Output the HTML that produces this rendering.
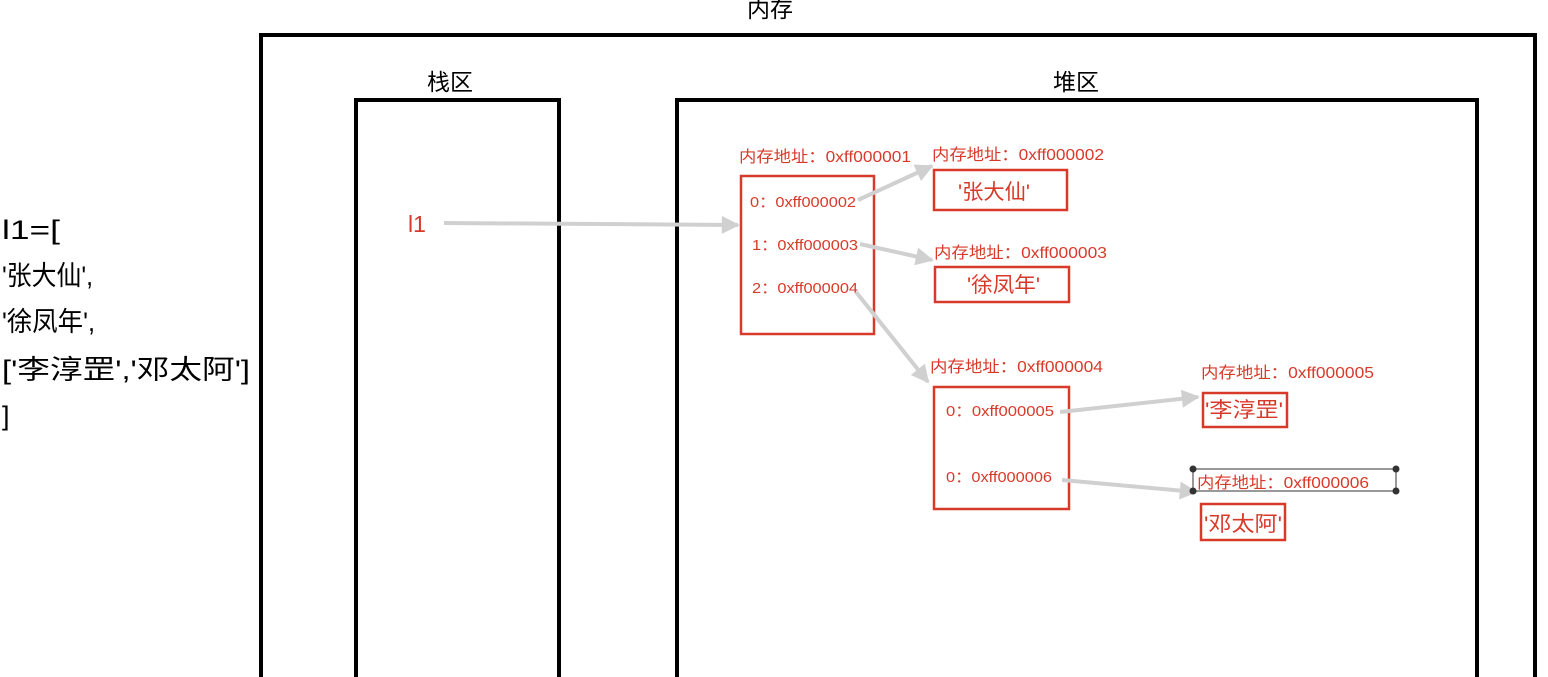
<!DOCTYPE html>
<html><head><meta charset="utf-8"><style>
html,body{margin:0;padding:0;background:#fff;width:1548px;height:677px;overflow:hidden}
svg{display:block}
svg text{font-family:"Liberation Sans","Noto Sans CJK SC",sans-serif}
</style></head><body>
<svg width="1548" height="677" viewBox="0 0 1548 677" xmlns="http://www.w3.org/2000/svg">
<defs><marker id="b" viewBox="0 0 10 10" refX="9" refY="5" markerWidth="22" markerHeight="18" orient="auto" markerUnits="userSpaceOnUse"><path d="M0,0 L10,5 L0,10z" fill="#d0d0d0"/></marker></defs>
<path d="M261,677 V35 H1535 V677" fill="none" stroke="#000" stroke-width="4"/>
<path d="M356,677 V100 H559 V677" fill="none" stroke="#000" stroke-width="4"/>
<path d="M677,677 V100 H1477 V677" fill="none" stroke="#000" stroke-width="4"/>
<text x="770" y="17" font-size="23" text-anchor="middle">内存</text>
<text x="450" y="90" font-size="23" text-anchor="middle">栈区</text>
<text x="1076" y="90" font-size="23" text-anchor="middle">堆区</text>
<g font-size="27" fill="#000" lengthAdjust="spacingAndGlyphs">
<text x="2" y="239" textLength="58" lengthAdjust="spacingAndGlyphs">l1=[</text>
<text x="2" y="285" textLength="91" lengthAdjust="spacingAndGlyphs">'张大仙',</text>
<text x="2" y="331" textLength="93" lengthAdjust="spacingAndGlyphs">'徐凤年',</text>
<text x="2" y="379" textLength="248" lengthAdjust="spacingAndGlyphs">['李淳罡','邓太阿']</text>
<text x="2" y="425">]</text></g>
<g fill="none" stroke="#d83a2a" stroke-width="2.5">
<rect x="741" y="176" width="133" height="158"/>
<rect x="934" y="170" width="133" height="40"/>
<rect x="935" y="267" width="134" height="35"/>
<rect x="934" y="387" width="135" height="122"/>
<rect x="1203" y="393" width="84" height="34"/>
<rect x="1201" y="504" width="84" height="36"/>
</g>
<g fill="#d83a2a">
<text x="408" y="232" font-size="23">l1</text>
<g font-size="16">
<text x="739" y="162" textLength="172" lengthAdjust="spacingAndGlyphs">内存地址：0xff000001</text>
<text x="932" y="160" textLength="172" lengthAdjust="spacingAndGlyphs">内存地址：0xff000002</text>
<text x="934" y="258" textLength="173" lengthAdjust="spacingAndGlyphs">内存地址：0xff000003</text>
<text x="930" y="372" textLength="173" lengthAdjust="spacingAndGlyphs">内存地址：0xff000004</text>
<text x="1201" y="378" textLength="173" lengthAdjust="spacingAndGlyphs">内存地址：0xff000005</text>
<text x="1197" y="488" textLength="172" lengthAdjust="spacingAndGlyphs">内存地址：0xff000006</text>
</g>
<g font-size="15">
<text x="750" y="207" textLength="106" lengthAdjust="spacingAndGlyphs">0：0xff000002</text>
<text x="752" y="250" textLength="106" lengthAdjust="spacingAndGlyphs">1：0xff000003</text>
<text x="752" y="293" textLength="106" lengthAdjust="spacingAndGlyphs">2：0xff000004</text>
<text x="946" y="416" textLength="108" lengthAdjust="spacingAndGlyphs">0：0xff000005</text>
<text x="946" y="482" textLength="106" lengthAdjust="spacingAndGlyphs">0：0xff000006</text>
</g>
<g font-size="21">
<text x="958" y="199" textLength="72" lengthAdjust="spacingAndGlyphs">'张大仙'</text>
<text x="967" y="292" textLength="73" lengthAdjust="spacingAndGlyphs">'徐凤年'</text>
<text x="1205" y="417" textLength="78" lengthAdjust="spacingAndGlyphs">'李淳罡'</text>
<text x="1204" y="531" textLength="78" lengthAdjust="spacingAndGlyphs">'邓太阿'</text>
</g></g>
<g stroke="#d0d0d0" stroke-width="4" fill="none" marker-end="url(#b)">
<line x1="444" y1="223" x2="738" y2="225"/>
<line x1="858" y1="200" x2="932" y2="166"/>
<line x1="860" y1="244" x2="932" y2="260"/>
<line x1="856" y1="292" x2="928" y2="382"/>
<line x1="1060" y1="412" x2="1198" y2="397"/>
<line x1="1062" y1="480" x2="1196" y2="492"/>
</g>
<rect x="1193" y="469" width="203" height="22" fill="none" stroke="#555" stroke-width="1.2"/>
<g fill="#333"><circle cx="1193" cy="469" r="3.5"/><circle cx="1396" cy="469" r="3.5"/><circle cx="1193" cy="491" r="3.5"/><circle cx="1396" cy="491" r="3.5"/></g>
</svg>
</body></html>
